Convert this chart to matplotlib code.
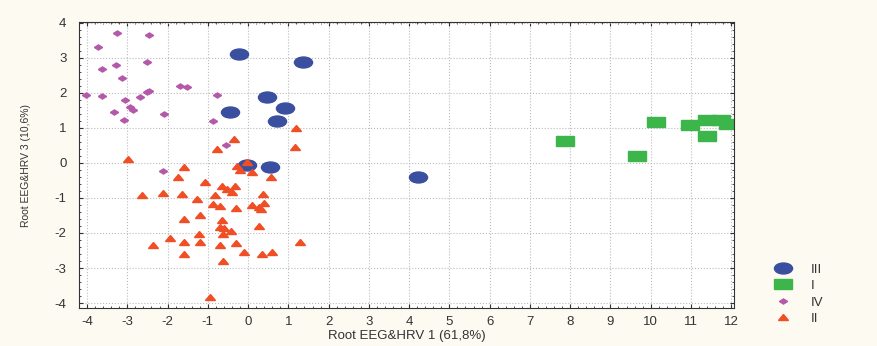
import matplotlib
matplotlib.use("Agg")
import matplotlib.pyplot as plt
from matplotlib.markers import MarkerStyle
from matplotlib.transforms import Affine2D
from matplotlib.ticker import AutoMinorLocator

plt.rcParams['font.family'] = ['Liberation Sans', 'DejaVu Sans']
plt.rcParams['axes.unicode_minus'] = False

# group III (blue ellipses)
g3_x = [-0.22, 1.37, 0.48, 0.92, -0.45, 0.72, -0.02, 0.54, 4.23]
g3_y = [3.12, 2.89, 1.88, 1.58, 1.45, 1.21, -0.06, -0.13, -0.40]

# group I (green rectangles)
g1_x = [7.86, 9.66, 10.12, 10.98, 11.41, 11.41, 11.75, 11.93]
g1_y = [0.62, 0.21, 1.16, 1.09, 0.77, 1.22, 1.23, 1.12]

# group IV (purple diamonds)
g4_x = [-3.25, -2.46, -3.72, -3.29, -3.62, -2.52, -3.12, -1.70, -1.52, -4.02,
        -3.62, -3.05, -2.69, -2.51, -2.45, -0.77, -3.32, -2.93, -2.86, -2.09,
        -3.09, -0.86, -0.54, -2.11]
g4_y = [3.72, 3.64, 3.31, 2.79, 2.69, 2.89, 2.43, 2.20, 2.17, 1.95,
        1.92, 1.79, 1.88, 2.02, 2.04, 1.95, 1.45, 1.59, 1.51, 1.40,
        1.22, 1.20, 0.51, -0.22]

# group II (red triangles)
g2_x = [1.20, -0.36, -0.77, 1.16, -2.99, -0.03, -0.27, -0.20, -1.59, 0.10,
        0.56, -1.73, -1.06, -0.64, -0.33, -0.52, -0.40, -2.63, -2.12, -1.63,
        -0.83, 0.37, -1.27, -0.87, -0.69, -0.30, 0.09, 0.40, 0.27, 0.32,
        -1.59, -1.19, -0.66, -0.70, -0.59, -0.43, -0.63, 0.27, -1.23, -1.93,
        -2.35, -1.59, -1.19, -0.69, -0.30, 1.29, -1.59, -0.10, 0.34, 0.59,
        -0.63, -0.95]
g2_y = [0.99, 0.68, 0.40, 0.45, 0.11, 0.02, -0.08, -0.20, -0.12, -0.27,
        -0.39, -0.41, -0.53, -0.65, -0.67, -0.75, -0.82, -0.92, -0.85, -0.88,
        -0.91, -0.90, -1.03, -1.17, -1.24, -1.28, -1.19, -1.14, -1.25, -1.31,
        -1.59, -1.49, -1.63, -1.82, -1.87, -1.94, -2.02, -1.81, -2.04, -2.15,
        -2.34, -2.27, -2.26, -2.33, -2.29, -2.25, -2.61, -2.54, -2.59, -2.54,
        -2.79, -3.82]

ellipse = MarkerStyle('o', transform=Affine2D().scale(1.65, 1.0))
rect = MarkerStyle('s', transform=Affine2D().scale(1.65, 1.0))
diamond = MarkerStyle('D', transform=Affine2D().scale(1.6, 1.0))
tri = MarkerStyle('^', transform=Affine2D().scale(1.5, 1.0))

fig = plt.figure(figsize=(8.78, 3.46), dpi=100, facecolor='#fdfaf2')
ax = fig.add_axes([0.090, 0.110, 0.746, 0.826])
ax.set_facecolor('white')

ax.plot(g3_x, g3_y, ls='none', marker=ellipse, ms=7.9, color='#3a4f9f', mec='#3a4f9f', label='III')
ax.plot(g1_x, g1_y, ls='none', marker=rect, ms=7.9, color='#3cb54a', mec='#3cb54a', label='I')
ax.plot(g4_x, g4_y, ls='none', marker=diamond, ms=2.6, color='#b459a8', mec='#b459a8', label='IV')
ax.plot(g2_x, g2_y, ls='none', marker=tri, ms=4.4, color='#f04e25', mec='#f04e25', label='II')

ax.set_xlim(-4.2, 12.07)
ax.set_ylim(-4.14, 4.02)
ax.set_xticks(range(-4, 13))
ax.set_yticks(range(-4, 5))
ax.xaxis.set_minor_locator(AutoMinorLocator(5))
ax.yaxis.set_minor_locator(AutoMinorLocator(5))
ax.tick_params(which='both', direction='in', top=True, right=True,
               labelsize=9.5, labelcolor='#333333', color='#333333')
ax.tick_params(axis='x', which='major', length=3, pad=6)
ax.tick_params(axis='y', which='major', length=3, pad=9)
ax.tick_params(which='minor', length=1.5)
ax.grid(True, which='major', ls=':', color='#bbbbbb', lw=0.8)
ax.set_axisbelow(True)
for s in ax.spines.values():
    s.set_color('#333333')
    s.set_linewidth(0.8)

ax.set_xlabel('Root EEG&HRV 1 (61,8%)', fontsize=9.5, color='#333333', labelpad=1)
ax.set_ylabel('Root EEG&HRV 3 (10,6%)', fontsize=7.5, color='#333333', labelpad=17)

fig.legend(loc='upper left', bbox_to_anchor=(0.8665, 0.273), frameon=False,
           fontsize=9.5, handletextpad=1.3, labelspacing=0.32, handlelength=1.6,
           labelcolor='#333333')

fig.savefig('out.png', dpi=100, facecolor=fig.get_facecolor())
